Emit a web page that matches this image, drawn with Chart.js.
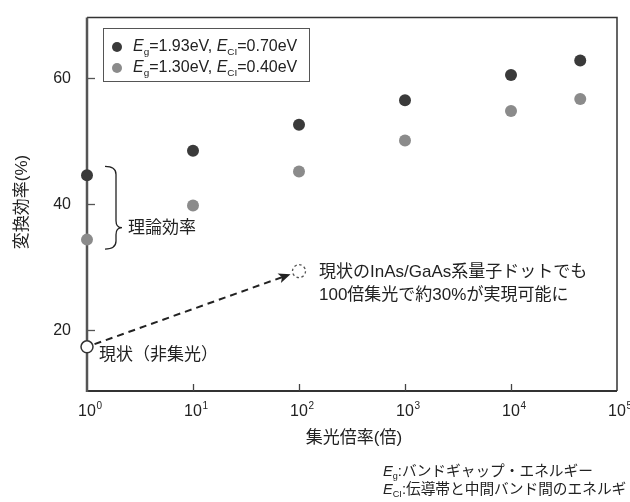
<!DOCTYPE html>
<html>
<head>
<meta charset="utf-8">
<script src="https://cdn.jsdelivr.net/npm/chart.js@4"></script>
<style>
  body { margin: 0; background: #fff; }
  canvas { display: block; }
</style>
</head>
<body>
<canvas id="chart" width="630" height="502"></canvas>
<script>
// Data
const ratios = [1, 10, 100, 1000, 10000, 45000];
const effHigh = [44.6, 48.5, 52.6, 56.5, 60.5, 62.8];
const effLow = [34.4, 39.8, 45.2, 50.1, 54.8, 56.7];
const gapEg = ['1.93', '1.30'];
const gapEci = ['0.70', '0.40'];

// current (no concentration) and target (100x) points
const nowX = [1];
const nowY = [17.4];
const goalX = [100];
const goalY = [29.4];

const xTicks = [1, 10, 100, 1000, 10000, 100000];
const yTicks = [20, 40, 60];

const DARK = '#3a3a3a';
const GRAY = '#8b8b8b';
const TEXT = '#222';
// latin glyphs from Liberation, kana/kanji fall back to Noto CJK
const JP = '"Liberation Sans", "Noto Sans CJK JP", sans-serif';
const LAT = '"Liberation Sans", Arial, sans-serif';

function toPoints(xs, ys) {
    return xs.map((x, i) => ({ x: x, y: ys[i] }));
}

// Draw a run of text pieces (italic / subscript support)
function drawRich(ctx, parts, x, y, size) {
    ctx.textBaseline = 'middle';
    ctx.textAlign = 'left';
    parts.forEach(p => {
        let fs = p.sub ? size * 0.62 : size;
        let dy = p.sub ? size * 0.3 : 0;
        ctx.font = (p.italic ? 'italic ' : '') + fs + 'px ' + (p.jp ? JP : LAT);
        ctx.fillText(p.t, x, y + dy);
        x += ctx.measureText(p.t).width;
    });
    return x;
}

const decorations = {
    id: 'decorations',
    beforeDatasetsDraw(chart) {
        const { ctx, chartArea: a, scales: { x, y } } = chart;
        ctx.save();
        // frame
        ctx.strokeStyle = '#333';
        ctx.lineWidth = 1.5;
        ctx.beginPath();
        ctx.moveTo(a.left, a.top);
        ctx.lineTo(a.right, a.top);
        ctx.lineTo(a.right, a.bottom);
        ctx.stroke();
        ctx.lineWidth = 2;
        ctx.beginPath();
        ctx.moveTo(a.left, a.bottom);
        ctx.lineTo(a.right, a.bottom);
        ctx.stroke();
        ctx.strokeStyle = '#555';
        ctx.lineWidth = 2.5;
        ctx.beginPath();
        ctx.moveTo(a.left, a.top);
        ctx.lineTo(a.left, a.bottom + 1);
        ctx.stroke();

        // inward ticks
        ctx.lineWidth = 1.3;
        yTicks.forEach(v => {
            const py = Math.round(y.getPixelForValue(v)) + 0.5;
            ctx.beginPath();
            ctx.moveTo(a.left, py);
            ctx.lineTo(a.left + 8, py);
            ctx.stroke();
        });
        ctx.strokeStyle = '#444';
        xTicks.slice(1, -1).forEach(v => {
            const px = Math.round(x.getPixelForValue(v)) + 0.5;
            ctx.beginPath();
            ctx.moveTo(px, a.bottom);
            ctx.lineTo(px, a.bottom - 7);
            ctx.stroke();
        });

        // x tick labels: 10^n
        ctx.fillStyle = TEXT;
        xTicks.forEach(v => {
            const px = x.getPixelForValue(v);
            const n = String(Math.round(Math.log10(v)));
            ctx.font = '16px ' + LAT;
            ctx.textAlign = 'center';
            ctx.textBaseline = 'middle';
            ctx.fillText('10', px, a.bottom + 21);
            const w = ctx.measureText('10').width;
            ctx.font = '10px ' + LAT;
            ctx.textAlign = 'left';
            ctx.fillText(n, px + w / 2 + 0.5, a.bottom + 15);
        });

        // axis titles
        ctx.font = '17px ' + JP;
        ctx.textAlign = 'center';
        ctx.textBaseline = 'middle';
        ctx.fillText('集光倍率(倍)', (a.left + a.right) / 2 + 2, 438);
        ctx.save();
        ctx.translate(22, 202);
        ctx.rotate(-Math.PI / 2);
        ctx.fillText('変換効率(%)', 0, 0);
        ctx.restore();

        // dashed arrow from current to 100x target
        const p0 = { x: x.getPixelForValue(nowX[0]), y: y.getPixelForValue(nowY[0]) };
        const p1 = { x: x.getPixelForValue(goalX[0]), y: y.getPixelForValue(goalY[0]) };
        const len = Math.hypot(p1.x - p0.x, p1.y - p0.y);
        const d = { x: (p1.x - p0.x) / len, y: (p1.y - p0.y) / len };
        const s = { x: p0.x + d.x * 8, y: p0.y + d.y * 8 };
        const e = { x: p1.x - d.x * 9, y: p1.y - d.y * 9 };
        ctx.strokeStyle = '#222';
        ctx.lineWidth = 2;
        ctx.setLineDash([7, 5]);
        ctx.beginPath();
        ctx.moveTo(s.x, s.y);
        ctx.lineTo(e.x - d.x * 9, e.y - d.y * 9);
        ctx.stroke();
        ctx.setLineDash([]);
        ctx.fillStyle = '#222';
        ctx.beginPath();
        ctx.moveTo(e.x, e.y);
        ctx.lineTo(e.x - d.x * 12 - d.y * 5, e.y - d.y * 12 + d.x * 5);
        ctx.lineTo(e.x - d.x * 9, e.y - d.y * 9);
        ctx.lineTo(e.x - d.x * 12 + d.y * 5, e.y - d.y * 12 - d.x * 5);
        ctx.closePath();
        ctx.fill();

        // dashed target circle
        ctx.strokeStyle = '#555';
        ctx.lineWidth = 1.3;
        ctx.setLineDash([2.5, 2.5]);
        ctx.beginPath();
        ctx.arc(p1.x, p1.y, 6.5, 0, Math.PI * 2);
        ctx.stroke();
        ctx.setLineDash([]);
        ctx.restore();
    },
    afterDatasetsDraw(chart) {
        const { ctx, chartArea: a, scales: { x, y } } = chart;
        ctx.save();
        ctx.fillStyle = TEXT;

        // legend
        ctx.strokeStyle = '#555';
        ctx.lineWidth = 1;
        ctx.strokeRect(103.5, 28.5, 206, 53);
        [DARK, GRAY].forEach((c, i) => {
            const cy = 47 + i * 21;
            ctx.fillStyle = c;
            ctx.beginPath();
            ctx.arc(117, cy, 5, 0, Math.PI * 2);
            ctx.fill();
            ctx.fillStyle = TEXT;
            drawRich(ctx, [
                { t: 'E', italic: true }, { t: 'g', sub: true },
                { t: '=' + gapEg[i] + 'eV, ' },
                { t: 'E', italic: true }, { t: 'CI', sub: true },
                { t: '=' + gapEci[i] + 'eV' }
            ], 133, cy, 16);
        });

        // brace for theoretical efficiency
        const bx = x.getPixelForValue(1);
        const top = y.getPixelForValue(46.0);
        const bot = y.getPixelForValue(32.9);
        const tip = y.getPixelForValue(36.3);
        ctx.strokeStyle = '#222';
        ctx.lineWidth = 1.3;
        ctx.beginPath();
        ctx.moveTo(bx + 18, top);
        ctx.quadraticCurveTo(bx + 29, top, bx + 29, top + 8);
        ctx.lineTo(bx + 29, tip - 7);
        ctx.quadraticCurveTo(bx + 29, tip, bx + 35, tip);
        ctx.quadraticCurveTo(bx + 29, tip, bx + 29, tip + 7);
        ctx.lineTo(bx + 29, bot - 8);
        ctx.quadraticCurveTo(bx + 29, bot, bx + 18, bot);
        ctx.stroke();

        ctx.font = '17px ' + JP;
        ctx.textAlign = 'left';
        ctx.textBaseline = 'middle';
        ctx.fillText('理論効率', bx + 41, tip + 1);

        const p0 = { x: x.getPixelForValue(nowX[0]), y: y.getPixelForValue(nowY[0]) };
        ctx.fillText('現状（非集光）', p0.x + 12, p0.y + 8);

        const p1 = { x: x.getPixelForValue(goalX[0]), y: y.getPixelForValue(goalY[0]) };
        ctx.fillText('現状のInAs/GaAs系量子ドットでも', p1.x + 20, p1.y + 1);
        ctx.fillText('100倍集光で約30%が実現可能に', p1.x + 20, p1.y + 24);

        // footnote
        drawRich(ctx, [
            { t: 'E', italic: true }, { t: 'g', sub: true },
            { t: ':バンドギャップ・エネルギー', jp: true }
        ], 383, 472, 14.7);
        drawRich(ctx, [
            { t: 'E', italic: true }, { t: 'CI', sub: true },
            { t: ':伝導帯と中間バンド間のエネルギ', jp: true }
        ], 383, 490, 14.7);
        ctx.restore();
    }
};

new Chart(document.getElementById('chart'), {
    type: 'scatter',
    data: {
        datasets: [
            {
                label: 'Eg=1.93eV, ECI=0.70eV',
                data: toPoints(ratios, effHigh),
                pointRadius: 6,
                backgroundColor: DARK,
                borderWidth: 0,
                clip: false
            },
            {
                label: 'Eg=1.30eV, ECI=0.40eV',
                data: toPoints(ratios, effLow),
                pointRadius: 6,
                backgroundColor: GRAY,
                borderWidth: 0,
                clip: false
            },
            {
                label: '現状',
                data: toPoints(nowX, nowY),
                pointRadius: 6,
                backgroundColor: '#fff',
                borderColor: '#333',
                borderWidth: 1.5,
                clip: false
            }
        ]
    },
    options: {
        responsive: false,
        animation: false,
        layout: { padding: { left: 0, right: 13, top: 14, bottom: 0 } },
        plugins: {
            legend: { display: false },
            tooltip: { enabled: false }
        },
        scales: {
            x: {
                type: 'logarithmic',
                min: 1,
                max: 100000,
                grid: { display: false },
                border: { display: false },
                ticks: { display: false },
                afterBuildTicks: s => { s.ticks = xTicks.map(v => ({ value: v })); },
                afterFit: s => { s.height = 111; }
            },
            y: {
                min: 10.4,
                max: 69.6,
                grid: { display: false },
                border: { display: false },
                ticks: {
                    padding: 8,
                    color: TEXT,
                    font: { family: LAT, size: 16 }
                },
                afterBuildTicks: s => { s.ticks = yTicks.map(v => ({ value: v })); },
                afterFit: s => { s.width = 87; }
            }
        }
    },
    plugins: [decorations]
});
</script>
</body>
</html>
